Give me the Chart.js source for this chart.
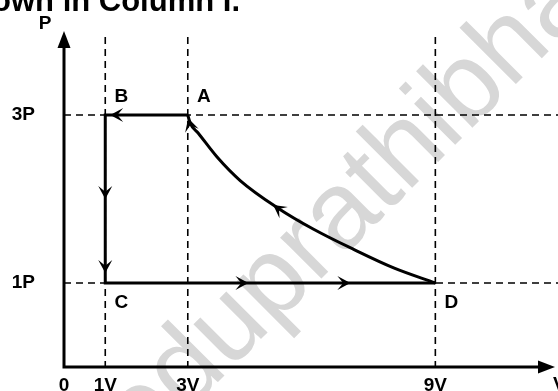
<!DOCTYPE html>
<html>
<head>
<meta charset="utf-8">
<script src="https://cdn.jsdelivr.net/npm/chart.js@4"></script>
<style>
  html, body { margin: 0; padding: 0; background: #fff; }
  canvas { display: block; }
</style>
</head>
<body>
<canvas id="pv" width="558" height="391"></canvas>
<script>
// P-V cycle, volume in V units, pressure in P units
var stateNames = ['A', 'B', 'C', 'D'];
var stateV = [3, 1, 1, 9];
var stateP = [3, 3, 1, 1];

// D -> A curve (listed from the A end)
var curveV = [3, 3.06, 3.26, 3.71, 4.27, 5.16, 6.05, 7.02, 7.99, 9];
var curveP = [3, 2.9, 2.78, 2.5, 2.22, 1.9, 1.64, 1.4, 1.18, 1];

// where the arrow heads sit on the cycle
var arrowV = [1.12, 1, 1, 4.47, 6.94, 5.07, 3.01];
var arrowP = [3, 2.0, 1.12, 1, 1, 1.93, 2.96];

var xTicks = [0, 1, 3, 9];
var xTickLabels = ['0', '1V', '3V', '9V'];
var yTicks = [1, 3];
var yTickLabels = ['1P', '3P'];

var FONT = '"Liberation Sans", Arial, Helvetica, sans-serif';

function pts(vs, ps) {
    return vs.map(function (v, i) { return { x: v, y: ps[i] }; });
}

function dart(c, x, y, ang, len, half) {
    c.save();
    c.translate(x, y);
    c.rotate(ang);
    c.beginPath();
    c.moveTo(0, 0);
    c.lineTo(-len, -half);
    c.lineTo(-len * 0.55, 0);
    c.lineTo(-len, half);
    c.closePath();
    c.fill();
    c.restore();
}

// keep the tick label padding from eating into the plot area
function noPad(s) {
    s.paddingTop = 0;
    s.paddingBottom = 0;
    s.paddingLeft = 0;
    s.paddingRight = 0;
}

var diagram = {
    id: 'diagram',
    beforeDraw: function (chart) {
        var c = chart.ctx;
        c.save();
        c.fillStyle = '#fff';
        c.fillRect(0, 0, chart.width, chart.height);
        // watermark
        c.translate(143, 457);
        c.rotate(-Math.PI / 4);
        c.font = '110px ' + FONT;
        c.fillStyle = '#d7d7d7';
        c.fillText('eduprathibha', 0, 0);
        c.restore();
        // cut-off line of text above the figure
        c.save();
        c.font = 'bold 31px ' + FONT;
        c.fillStyle = '#000';
        c.textAlign = 'right';
        c.textBaseline = 'alphabetic';
        c.fillText('shown in Column I.', 240, 11);
        c.restore();
    },
    beforeDatasetsDraw: function (chart) {
        var c = chart.ctx, a = chart.chartArea;
        var xs = chart.scales.x, ys = chart.scales.y;
        c.save();
        c.strokeStyle = '#000';
        c.lineWidth = 1.6;
        c.setLineDash([7, 5]);
        xTicks.forEach(function (v) {
            if (v === 0) return;
            var px = xs.getPixelForValue(v);
            c.beginPath();
            c.moveTo(px, a.top + 6);
            c.lineTo(px, a.bottom);
            c.stroke();
        });
        yTicks.forEach(function (v) {
            var py = ys.getPixelForValue(v);
            c.beginPath();
            c.moveTo(a.left, py);
            c.lineTo(chart.width, py);
            c.stroke();
        });
        c.restore();
    },
    afterDatasetsDraw: function (chart) {
        var c = chart.ctx, a = chart.chartArea;
        var xs = chart.scales.x, ys = chart.scales.y;
        c.save();
        c.fillStyle = '#000';
        c.strokeStyle = '#000';

        // axes with arrow heads
        c.lineWidth = 3;
        c.beginPath();
        c.moveTo(a.left, a.top + 14);
        c.lineTo(a.left, a.bottom);
        c.lineTo(a.right - 14, a.bottom);
        c.stroke();
        c.beginPath();
        c.moveTo(a.left, a.top);
        c.lineTo(a.left - 6.5, a.top + 17);
        c.lineTo(a.left + 6.5, a.top + 17);
        c.closePath();
        c.fill();
        c.beginPath();
        c.moveTo(a.right, a.bottom);
        c.lineTo(a.right - 17, a.bottom - 6.5);
        c.lineTo(a.right - 17, a.bottom + 6.5);
        c.closePath();
        c.fill();

        // cycle path in pixels, in the direction of travel
        var path = [];
        for (var i = 0; i < stateV.length; i++) {
            path.push([xs.getPixelForValue(stateV[i]), ys.getPixelForValue(stateP[i])]);
        }
        for (var j = curveV.length - 1; j >= 0; j--) {
            path.push([xs.getPixelForValue(curveV[j]), ys.getPixelForValue(curveP[j])]);
        }
        arrowV.forEach(function (v, k) {
            var px = xs.getPixelForValue(v), py = ys.getPixelForValue(arrowP[k]);
            var best = 1e9, ang = 0;
            for (var s = 0; s < path.length - 1; s++) {
                var p0 = path[s], p1 = path[s + 1];
                var dx = p1[0] - p0[0], dy = p1[1] - p0[1];
                var L = dx * dx + dy * dy;
                if (!L) continue;
                var t = Math.max(0, Math.min(1, ((px - p0[0]) * dx + (py - p0[1]) * dy) / L));
                var qx = p0[0] + t * dx - px, qy = p0[1] + t * dy - py;
                var d = qx * qx + qy * qy;
                if (d < best) { best = d; ang = Math.atan2(dy, dx); }
            }
            dart(c, px, py, ang, 13, 7);
        });

        // state letters and axis names
        c.font = 'bold 19px ' + FONT;
        c.textAlign = 'center';
        c.textBaseline = 'middle';
        var top = Math.max.apply(null, stateP);
        stateNames.forEach(function (n, k) {
            var px = xs.getPixelForValue(stateV[k]), py = ys.getPixelForValue(stateP[k]);
            c.fillText(n, px + 16, stateP[k] === top ? py - 18 : py + 20);
        });
        c.fillText('P', a.left - 19, a.top - 7);
        c.textAlign = 'left';
        c.fillText('V', a.right - 2, a.bottom + 18);
        c.restore();
    }
};

var chart = new Chart(document.getElementById('pv'), {
    type: 'scatter',
    data: {
        datasets: [{
            label: 'A-B-C-D',
            data: pts(stateV, stateP),
            showLine: true,
            borderColor: '#000',
            borderWidth: 3,
            borderJoinStyle: 'miter',
            pointRadius: 0,
            tension: 0
        }, {
            label: 'D-A',
            data: pts(curveV, curveP),
            showLine: true,
            borderColor: '#000',
            borderWidth: 3,
            pointRadius: 0,
            cubicInterpolationMode: 'monotone'
        }]
    },
    options: {
        responsive: false,
        animation: false,
        events: [],
        layout: { padding: { top: 31, right: 3, left: 0, bottom: 0 } },
        plugins: {
            legend: { display: false },
            tooltip: { enabled: false }
        },
        scales: {
            x: {
                type: 'linear',
                min: 0,
                max: 11.9,
                afterBuildTicks: function (s) { s.ticks = xTicks.map(function (v) { return { value: v }; }); },
                afterFit: function (s) { s.height = 24; noPad(s); },
                grid: { display: false, drawTicks: false },
                border: { display: false },
                ticks: {
                    autoSkip: false,
                    maxRotation: 0,
                    padding: 7,
                    color: '#000',
                    font: { family: FONT, size: 19, weight: 'bold' },
                    callback: function (v, i) { return xTickLabels[i]; }
                }
            },
            y: {
                type: 'linear',
                min: 0,
                max: 4,
                afterBuildTicks: function (s) { s.ticks = yTicks.map(function (v) { return { value: v }; }); },
                afterFit: function (s) { s.width = 64; noPad(s); },
                grid: { display: false, drawTicks: false },
                border: { display: false },
                ticks: {
                    autoSkip: false,
                    padding: 29,
                    color: '#000',
                    font: { family: FONT, size: 19, weight: 'bold' },
                    callback: function (v, i) { return yTickLabels[i]; }
                }
            }
        }
    },
    plugins: [diagram]
});
</script>
</body>
</html>
